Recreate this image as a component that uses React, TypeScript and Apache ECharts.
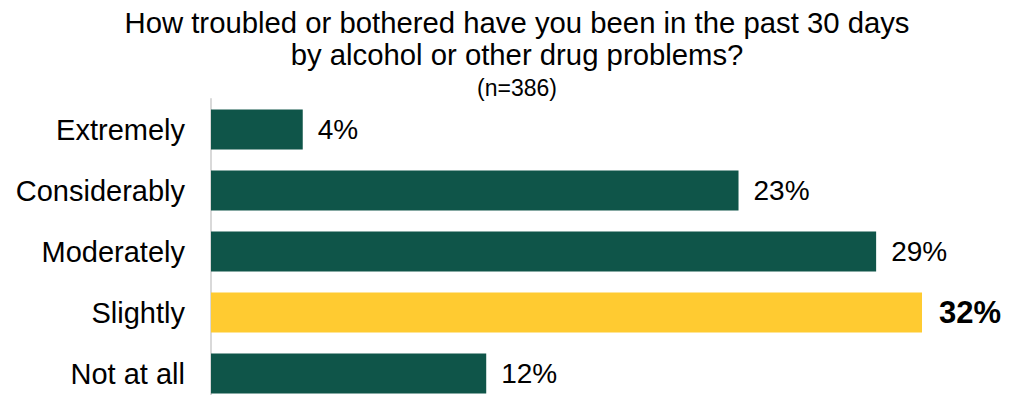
import React, { useEffect, useRef } from "react";
import * as echarts from "echarts";

const titleLines = [
  "How troubled or bothered have you been in the past 30 days",
  "by alcohol or other drug problems?",
];
const subtitle = "(n=386)";
const categories = ["Extremely", "Considerably", "Moderately", "Slightly", "Not at all"];
const values = [4, 23, 29, 32, 12];
const highlightIndex = 3;
const axisMax = 31;

const GREEN = "#0F5549";
const YELLOW = "#FFCB31";
const FONT = "'Liberation Sans', Arial, sans-serif";

export default function App() {
  const ref = useRef<HTMLDivElement>(null);

  useEffect(() => {
    if (!ref.current) return;
    const chart = echarts.init(ref.current, undefined, { renderer: "svg" });
    const data = values.map((v, i) => {
      const hi = i === highlightIndex;
      return {
        value: v,
        itemStyle: { color: hi ? YELLOW : GREEN },
        label: hi
          ? { fontSize: 31, fontWeight: "bold" as const, distance: 17 }
          : { fontSize: 28, fontWeight: "normal" as const, distance: 15 },
      };
    });
    chart.setOption({
      animation: false,
      textStyle: { fontFamily: FONT },
      title: [
        {
          text: titleLines.join("\n"),
          left: 512,
          top: 1,
          textAlign: "center",
          textStyle: {
            fontFamily: FONT,
            fontSize: 29.3,
            fontWeight: "normal",
            color: "#000",
            lineHeight: 32,
          },
        },
        {
          text: subtitle,
          left: 512,
          top: 70,
          textAlign: "center",
          textStyle: {
            fontFamily: FONT,
            fontSize: 23,
            fontWeight: "normal",
            color: "#000",
            lineHeight: 26,
          },
        },
      ],
      grid: { left: 211, width: 711, top: 99, height: 305 },
      xAxis: {
        type: "value",
        min: 0,
        max: axisMax,
        show: false,
        splitLine: { show: false },
      },
      yAxis: {
        type: "category",
        data: categories,
        inverse: true,
        axisLine: { show: true, lineStyle: { color: "#D9D9D9", width: 2 } },
        axisTick: { show: false },
        axisLabel: {
          fontFamily: FONT,
          fontSize: 29,
          color: "#000",
          margin: 26,
        },
      },
      series: [
        {
          type: "bar",
          data,
          barWidth: 40,
          clip: true,
          label: {
            show: true,
            position: "right",
            formatter: "{c}%",
            fontFamily: FONT,
            color: "#000",
          },
        },
      ],
    });
    return () => chart.dispose();
  }, []);

  return (
    <div
      style={{
        position: "fixed",
        left: 0,
        top: 0,
        width: 1021,
        height: 395,
        overflow: "hidden",
        background: "#fff",
      }}
    >
      <div ref={ref} style={{ width: 1021, height: 420 }} />
    </div>
  );
}
